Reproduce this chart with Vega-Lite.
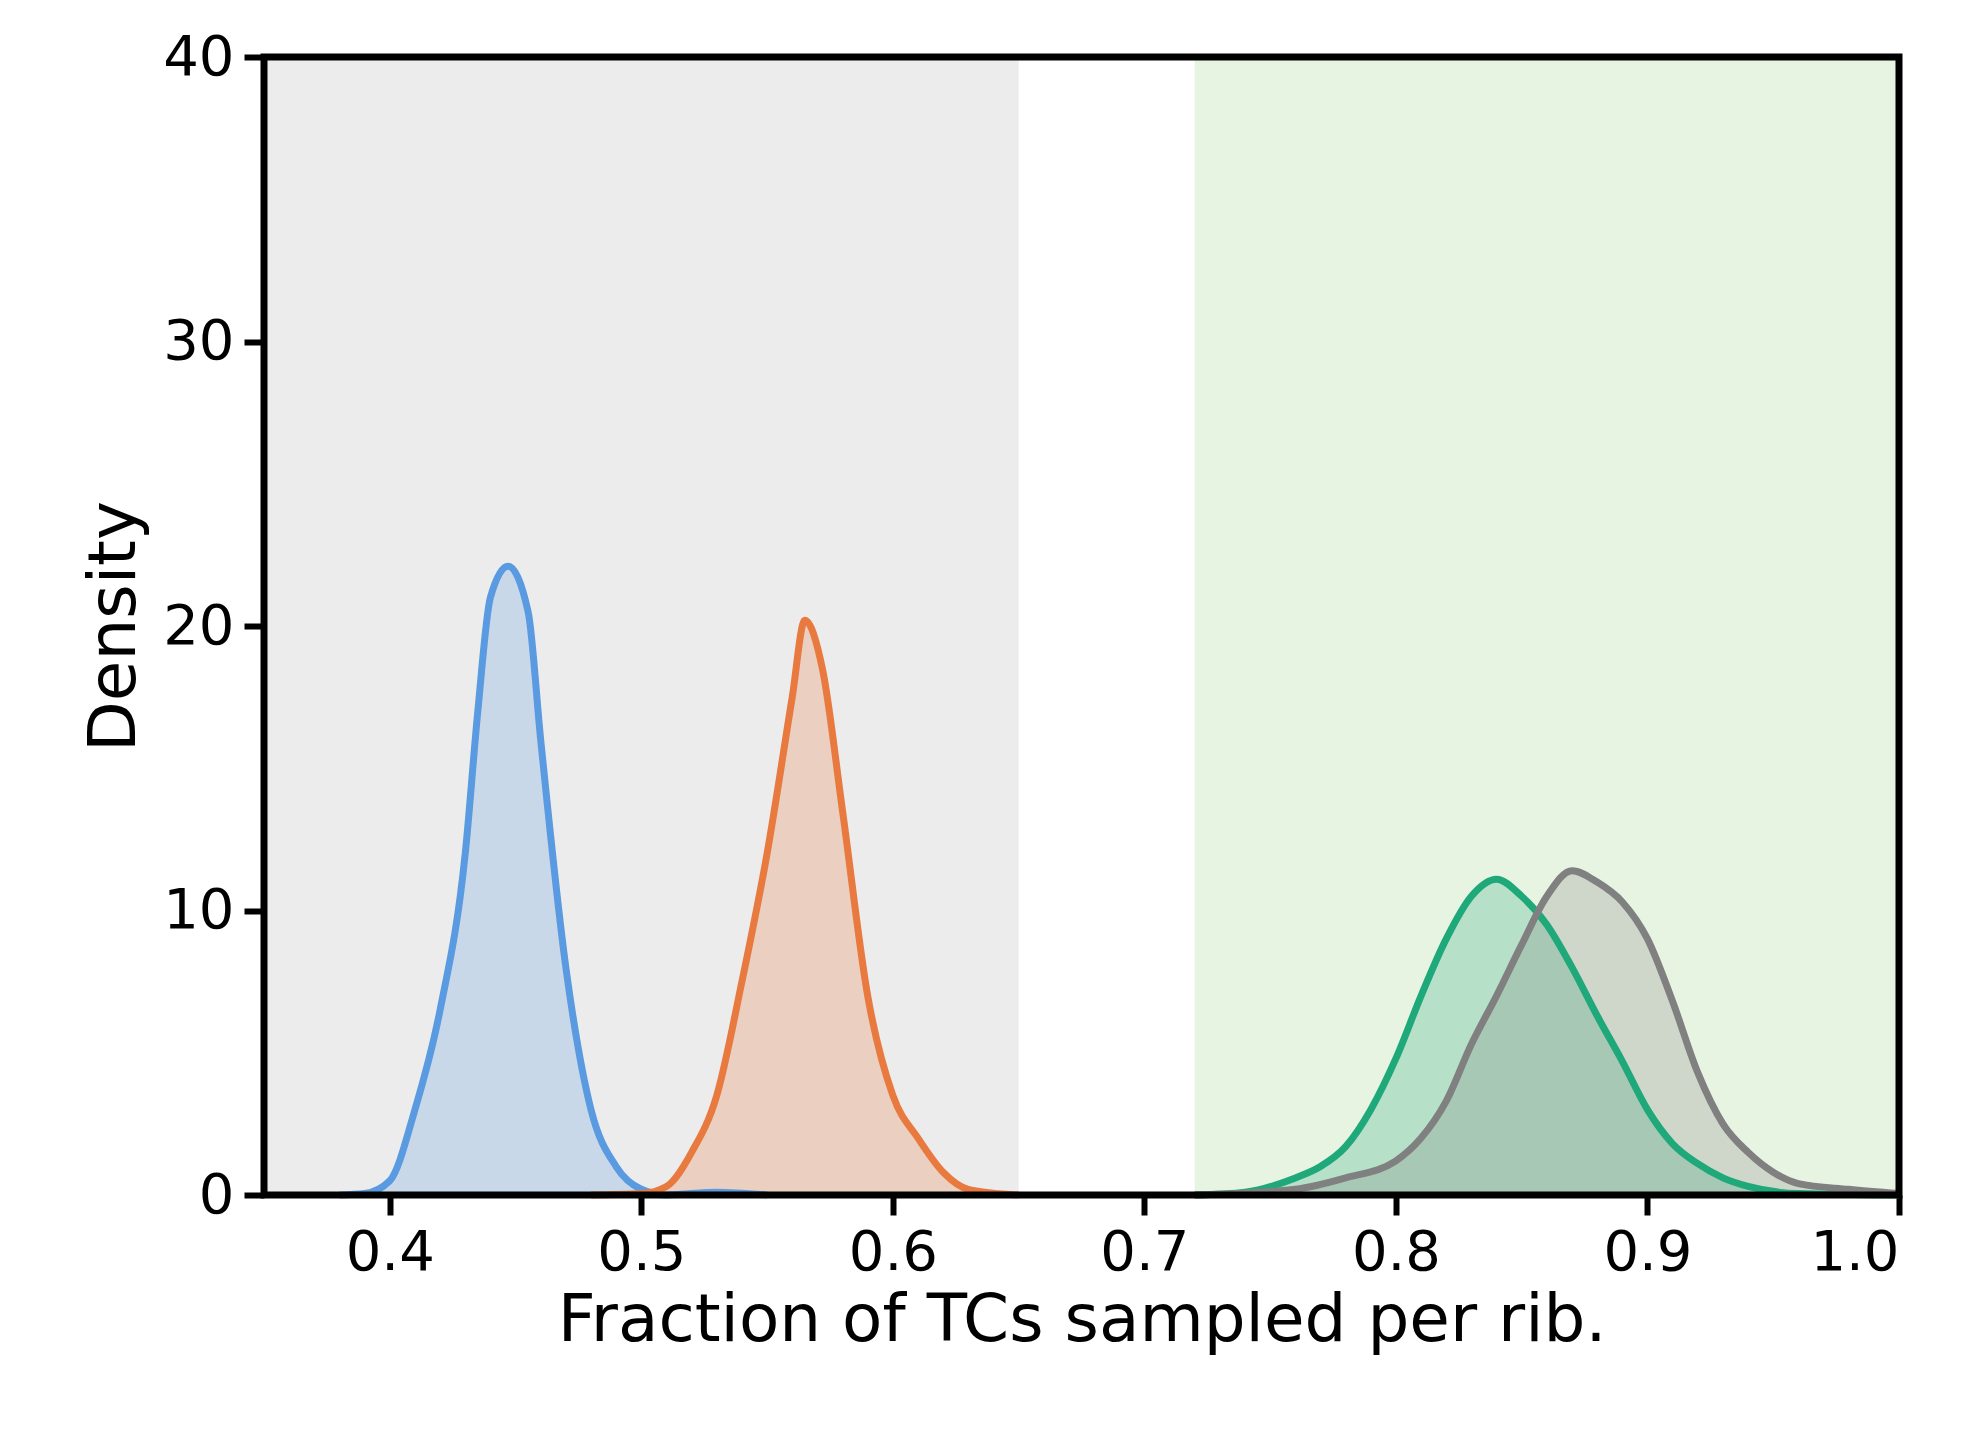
{
"$schema":"https://vega.github.io/schema/vega-lite/v6.json",
"width":1635,"height":1138,
"autosize":{"type":"none"},
"padding":{"left":264,"top":57,"right":80,"bottom":236},
"background":"white",
"config":{"view":{"stroke":null},
"axis":{"domain":false,"grid":false,"tickColor":"black","tickWidth":6,"tickSize":20,"labelFontSize":56,"titleFontSize":66,"labelFont":"DejaVu Sans","titleFont":"DejaVu Sans","titleFontWeight":"normal","labelColor":"black","titleColor":"black","labelPadding":10}},
"datasets":{
"regions":[{"a":0.35,"b":0.65,"r":"low"},{"a":0.72,"b":1.0,"r":"high"}],
"frame":[{"a":0.35,"b":1.0}],
"curves":[
{"s":"A","x":0.38,"y":0},{"s":"A","x":0.39,"y":0.05},{"s":"A","x":0.40,"y":0.5},{"s":"A","x":0.41,"y":3},{"s":"A","x":0.42,"y":6.5},{"s":"A","x":0.43,"y":12},{"s":"A","x":0.435,"y":17},{"s":"A","x":0.44,"y":21},{"s":"A","x":0.447,"y":22.1},{"s":"A","x":0.455,"y":20.5},{"s":"A","x":0.46,"y":16},{"s":"A","x":0.47,"y":8},{"s":"A","x":0.48,"y":3},{"s":"A","x":0.49,"y":1},{"s":"A","x":0.50,"y":0.2},{"s":"A","x":0.51,"y":0},{"s":"A","x":0.53,"y":0.1},{"s":"A","x":0.55,"y":0},
{"s":"B","x":0.48,"y":0},{"s":"B","x":0.50,"y":0.05},{"s":"B","x":0.51,"y":0.3},{"s":"B","x":0.52,"y":1.5},{"s":"B","x":0.53,"y":3.5},{"s":"B","x":0.54,"y":7.5},{"s":"B","x":0.55,"y":12},{"s":"B","x":0.56,"y":17.5},{"s":"B","x":0.565,"y":20.2},{"s":"B","x":0.572,"y":18.5},{"s":"B","x":0.58,"y":13.5},{"s":"B","x":0.59,"y":7},{"s":"B","x":0.60,"y":3.5},{"s":"B","x":0.61,"y":2},{"s":"B","x":0.62,"y":0.8},{"s":"B","x":0.63,"y":0.2},{"s":"B","x":0.65,"y":0},
{"s":"C","x":0.72,"y":0},{"s":"C","x":0.74,"y":0.1},{"s":"C","x":0.76,"y":0.6},{"s":"C","x":0.77,"y":1},{"s":"C","x":0.78,"y":1.7},{"s":"C","x":0.79,"y":3},{"s":"C","x":0.80,"y":4.8},{"s":"C","x":0.81,"y":7},{"s":"C","x":0.82,"y":9},{"s":"C","x":0.83,"y":10.5},{"s":"C","x":0.84,"y":11.1},{"s":"C","x":0.85,"y":10.5},{"s":"C","x":0.86,"y":9.5},{"s":"C","x":0.87,"y":8},{"s":"C","x":0.88,"y":6.3},{"s":"C","x":0.89,"y":4.7},{"s":"C","x":0.90,"y":3},{"s":"C","x":0.91,"y":1.8},{"s":"C","x":0.92,"y":1.1},{"s":"C","x":0.93,"y":0.6},{"s":"C","x":0.94,"y":0.3},{"s":"C","x":0.96,"y":0.05},{"s":"C","x":1.0,"y":0},
{"s":"D","x":0.72,"y":0},{"s":"D","x":0.76,"y":0.2},{"s":"D","x":0.78,"y":0.6},{"s":"D","x":0.80,"y":1.2},{"s":"D","x":0.81,"y":2},{"s":"D","x":0.82,"y":3.3},{"s":"D","x":0.83,"y":5.3},{"s":"D","x":0.84,"y":7},{"s":"D","x":0.85,"y":8.8},{"s":"D","x":0.86,"y":10.5},{"s":"D","x":0.87,"y":11.4},{"s":"D","x":0.88,"y":11},{"s":"D","x":0.89,"y":10.3},{"s":"D","x":0.90,"y":9},{"s":"D","x":0.91,"y":6.8},{"s":"D","x":0.92,"y":4.3},{"s":"D","x":0.93,"y":2.5},{"s":"D","x":0.94,"y":1.5},{"s":"D","x":0.95,"y":0.8},{"s":"D","x":0.96,"y":0.4},{"s":"D","x":0.98,"y":0.2},{"s":"D","x":1.0,"y":0.05}
]},
"layer":[
{"data":{"name":"regions"},"mark":{"type":"rect"},
 "encoding":{"x":{"field":"a","type":"quantitative","scale":{"domain":[0.35,1.0]},"axis":{"values":[0.4,0.5,0.6,0.7,0.8,0.9,1.0],"format":".1f","title":"Fraction of TCs sampled per rib.","titlePadding":8}},"x2":{"field":"b"},
 "color":{"field":"r","type":"nominal","scale":{"domain":["low","high"],"range":["#ececec","#e8f4e2"]},"legend":null}}},
{"data":{"name":"curves"},"mark":{"type":"area","interpolate":"monotone","fillOpacity":0.25},
 "encoding":{"x":{"field":"x","type":"quantitative"},"y":{"field":"y","type":"quantitative","stack":null,"scale":{"domain":[0,40]},"axis":{"values":[0,10,20,30,40],"title":"Density","titlePadding":14}},
 "fill":{"field":"s","type":"nominal","scale":{"domain":["A","B","C","D"],"range":["#5a9ae0","#e87a3f","#1fa87a","#808080"]},"legend":null}}},
{"data":{"name":"curves"},"mark":{"type":"line","interpolate":"monotone","strokeWidth":7},
 "encoding":{"x":{"field":"x","type":"quantitative"},"y":{"field":"y","type":"quantitative"},
 "stroke":{"field":"s","type":"nominal","scale":{"domain":["A","B","C","D"],"range":["#5a9ae0","#e87a3f","#1fa87a","#808080"]},"legend":null}}},
{"data":{"name":"frame"},"mark":{"type":"rect","fill":null,"stroke":"black","strokeWidth":7},
 "encoding":{"x":{"field":"a","type":"quantitative"},"x2":{"field":"b"}}}
],
"resolve":{"scale":{"color":"independent"}}
}
